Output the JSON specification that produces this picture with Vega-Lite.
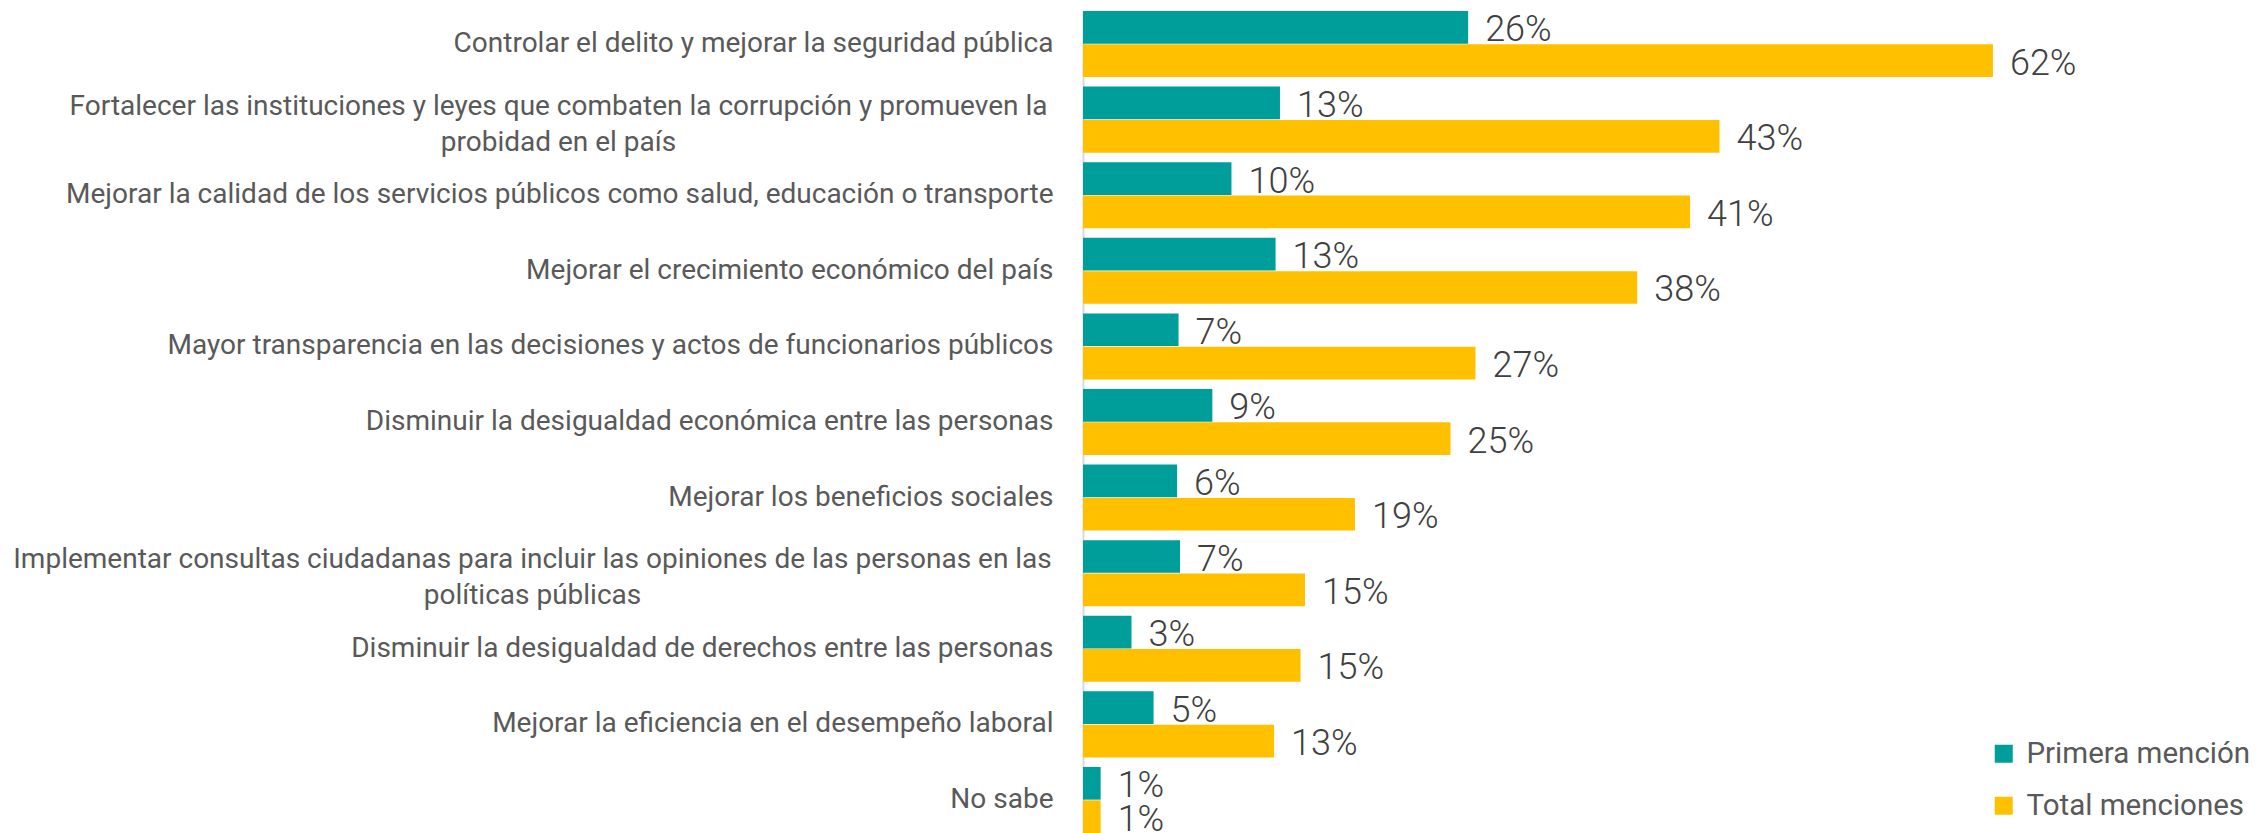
{
  "$schema": "https://vega.github.io/schema/vega-lite/v6.json",
  "width": 1176,
  "height": 822,
  "autosize": {"type": "none"},
  "padding": {"left": 1083, "top": 11, "right": 0, "bottom": 0},
  "background": "white",
  "config": {"view": {"stroke": null}},
  "data": {
    "values": [
      {"opcion": "Controlar el delito y mejorar la seguridad pública", "serie": "Primera mención", "valor": 0.262},
      {"opcion": "Controlar el delito y mejorar la seguridad pública", "serie": "Total menciones", "valor": 0.619},
      {"opcion": "Fortalecer las instituciones y leyes que combaten la corrupción y promueven la probidad en el país", "serie": "Primera mención", "valor": 0.134},
      {"opcion": "Fortalecer las instituciones y leyes que combaten la corrupción y promueven la probidad en el país", "serie": "Total menciones", "valor": 0.433},
      {"opcion": "Mejorar la calidad de los servicios públicos como salud, educación o transporte", "serie": "Primera mención", "valor": 0.101},
      {"opcion": "Mejorar la calidad de los servicios públicos como salud, educación o transporte", "serie": "Total menciones", "valor": 0.413},
      {"opcion": "Mejorar el crecimiento económico del país", "serie": "Primera mención", "valor": 0.131},
      {"opcion": "Mejorar el crecimiento económico del país", "serie": "Total menciones", "valor": 0.377},
      {"opcion": "Mayor transparencia en las decisiones y actos de funcionarios públicos", "serie": "Primera mención", "valor": 0.065},
      {"opcion": "Mayor transparencia en las decisiones y actos de funcionarios públicos", "serie": "Total menciones", "valor": 0.267},
      {"opcion": "Disminuir la desigualdad económica entre las personas", "serie": "Primera mención", "valor": 0.088},
      {"opcion": "Disminuir la desigualdad económica entre las personas", "serie": "Total menciones", "valor": 0.25},
      {"opcion": "Mejorar los beneficios sociales", "serie": "Primera mención", "valor": 0.064},
      {"opcion": "Mejorar los beneficios sociales", "serie": "Total menciones", "valor": 0.185},
      {"opcion": "Implementar consultas ciudadanas para incluir las opiniones de las personas en las políticas públicas", "serie": "Primera mención", "valor": 0.066},
      {"opcion": "Implementar consultas ciudadanas para incluir las opiniones de las personas en las políticas públicas", "serie": "Total menciones", "valor": 0.151},
      {"opcion": "Disminuir la desigualdad de derechos entre las personas", "serie": "Primera mención", "valor": 0.033},
      {"opcion": "Disminuir la desigualdad de derechos entre las personas", "serie": "Total menciones", "valor": 0.148},
      {"opcion": "Mejorar la eficiencia en el desempeño laboral", "serie": "Primera mención", "valor": 0.048},
      {"opcion": "Mejorar la eficiencia en el desempeño laboral", "serie": "Total menciones", "valor": 0.13},
      {"opcion": "No sabe", "serie": "Primera mención", "valor": 0.012},
      {"opcion": "No sabe", "serie": "Total menciones", "valor": 0.012}
    ]
  },
  "encoding": {
    "y": {
      "field": "opcion",
      "type": "nominal",
      "sort": null,
      "scale": {"paddingInner": 0.1265, "paddingOuter": 0},
      "axis": {
        "title": null,
        "domain": true,
        "domainColor": "#d9d9d9",
        "domainWidth": 2,
        "ticks": false,
        "tickSize": 0,
        "labelFont": "Roboto",
        "labelFontSize": 28,
        "labelColor": "#595959",
        "labelLimit": 1100,
        "labelLineHeight": 36,
        "labelExpr": "datum.value == 'Fortalecer las instituciones y leyes que combaten la corrupción y promueven la probidad en el país' ? ['Fortalecer las instituciones y leyes que combaten la corrupción y promueven la', 'probidad en el país'] : datum.value == 'Implementar consultas ciudadanas para incluir las opiniones de las personas en las políticas públicas' ? ['Implementar consultas ciudadanas para incluir las opiniones de las personas en las', 'políticas públicas'] : datum.label",
        "labelAlign": {"condition": {"test": "datum.value == 'Fortalecer las instituciones y leyes que combaten la corrupción y promueven la probidad en el país' || datum.value == 'Implementar consultas ciudadanas para incluir las opiniones de las personas en las políticas públicas'", "value": "center"}, "value": "right"},
        "labelOffset": {"condition": {"test": "datum.value == 'Fortalecer las instituciones y leyes que combaten la corrupción y promueven la probidad en el país' || datum.value == 'Implementar consultas ciudadanas para incluir las opiniones de las personas en las políticas públicas'", "value": -13}, "value": 0},
        "labelPadding": {"condition": [{"test": "datum.value == 'Fortalecer las instituciones y leyes que combaten la corrupción y promueven la probidad en el país'", "value": 525}, {"test": "datum.value == 'Implementar consultas ciudadanas para incluir las opiniones de las personas en las políticas públicas'", "value": 551}], "value": 30}
      }
    },
    "yOffset": {
      "field": "serie",
      "type": "nominal",
      "sort": ["Primera mención", "Total menciones"],
      "scale": {"paddingInner": 0.02}
    },
    "x": {
      "field": "valor",
      "type": "quantitative",
      "scale": {"domain": [0, 0.8]},
      "axis": null
    }
  },
  "layer": [
    {
      "mark": {"type": "bar"},
      "encoding": {
        "color": {
          "field": "serie",
          "type": "nominal",
          "scale": {"domain": ["Primera mención", "Total menciones"], "range": ["#009E9A", "#FFC000"]},
          "legend": {
            "orient": "none",
            "legendX": 906,
            "legendY": 728,
            "title": null,
            "symbolType": "square",
            "symbolSize": 324,
            "symbolStrokeWidth": 0,
            "labelFont": "Roboto",
            "labelFontSize": 29.5,
            "labelColor": "#595959",
            "labelLimit": 400,
            "rowPadding": 21,
            "labelOffset": 8,
            "padding": 0
          }
        }
      }
    },
    {
      "mark": {"type": "text", "align": "left", "baseline": "middle", "dx": 17, "dy": 3, "font": "Roboto", "fontWeight": 300, "fontSize": 36, "color": "#404040"},
      "encoding": {
        "text": {"field": "valor", "type": "quantitative", "format": ".0%"}
      }
    }
  ]
}
